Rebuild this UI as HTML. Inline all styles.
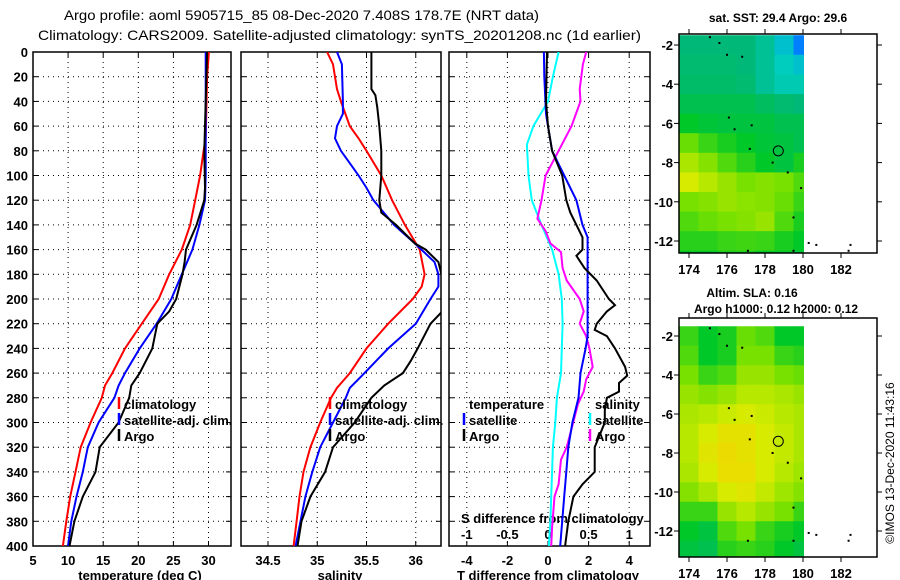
<!DOCTYPE html>
<html><head><meta charset="utf-8"><style>
html,body{margin:0;padding:0;background:#fff;width:900px;height:580px;overflow:hidden}
svg{display:block}
text{font-family:"Liberation Sans",Arial,sans-serif;fill:#000}
.tk{font-size:13px;font-weight:bold}
</style></head><body>
<svg id="fig" width="900" height="580" viewBox="0 0 900 580" xmlns="http://www.w3.org/2000/svg">
<text x="64" y="20" font-size="14" textLength="475" lengthAdjust="spacingAndGlyphs">Argo profile: aoml 5905715_85 08-Dec-2020 7.408S 178.7E (NRT data)</text>
<text x="38" y="40" font-size="14" textLength="603" lengthAdjust="spacingAndGlyphs">Climatology: CARS2009. Satellite-adjusted climatology: synTS_20201208.nc (1d earlier)</text>
<text x="778" y="22" font-size="12" font-weight="bold" text-anchor="middle">sat. SST: 29.4 Argo: 29.6</text>
<text x="752" y="297" font-size="12" font-weight="bold" text-anchor="middle">Altim. SLA: 0.16</text>
<text x="776" y="313" font-size="12" font-weight="bold" text-anchor="middle">Argo h1000: 0.12 h2000: 0.12</text>
<text x="0" y="0" font-size="12" text-anchor="middle" transform="translate(894,463) rotate(-90)">©IMOS 13-Dec-2020 11:43:16</text>
<text class="tk" x="140" y="580" text-anchor="middle">temperature (deg C)</text>
<text class="tk" x="340" y="580" text-anchor="middle">salinity</text>
<text class="tk" x="548" y="580" text-anchor="middle">T difference from climatology</text>
<text class="tk" x="461" y="523">S difference from climatology</text>
</svg>
<script>
// ---- profile data (depth in m) ----
const depthTClim=[0,20,70,80,100,120,140,160,180,200,220,240,260,270,280,300,320,340,360,380,400];
const tempClim=[30.06,29.8,29.6,29.3,28.8,28.1,27.4,26.2,24.4,22.9,20.5,18.1,16.3,15.25,14.8,13.2,11.8,11.05,10.3,9.75,9.26];
const depthTSat=[0,60,100,120,140,160,180,200,220,240,260,270,280,300,320,340,360,380,400];
const tempSat=[29.6,29.6,29.6,29.5,28.7,27.7,26.2,24.7,22.6,20.2,18.1,17.2,16.6,14.35,12.8,12.1,11.2,10.45,9.98];
const depthTArgo=[0,80,110,120,140,160,170,180,200,210,220,240,260,270,280,300,320,340,360,380,400];
const tempArgo=[29.8,29.4,29.5,29.4,28.3,26.8,26.6,26.3,25.4,24.4,22.7,22.0,20.2,19.0,18.7,17.2,14.5,13.9,12.1,10.9,10.2];

const depthSClim=[0,10,30,40,60,70,80,100,120,140,160,180,190,200,220,240,260,272,280,300,320,340,360,380,400];
const salClim=[35.10,35.16,35.2,35.24,35.33,35.42,35.5,35.65,35.76,35.89,36.04,36.09,36.06,35.97,35.72,35.5,35.33,35.2,35.14,35.03,34.93,34.86,34.82,34.79,34.76];
const depthSSat=[0,10,40,50,60,70,80,90,100,110,120,140,155,170,180,190,200,220,240,260,272,280,300,320,340,360,380,400];
const salSat=[35.2,35.25,35.26,35.26,35.2,35.18,35.24,35.33,35.42,35.5,35.57,35.78,35.99,36.19,36.23,36.23,36.15,36.0,35.72,35.48,35.33,35.29,35.16,35.03,34.95,34.88,34.83,34.78];
const depthSArgo=[0,30,35,45,60,80,100,120,130,140,155,160,170,180,190,210,220,240,250,260,270,280,300,320,340,360,380,400];
const salArgo=[35.55,35.55,35.59,35.61,35.63,35.65,35.65,35.63,35.65,35.8,35.99,36.1,36.23,36.26,36.27,36.27,36.15,36.02,35.95,35.87,35.68,35.55,35.38,35.16,35.08,34.93,34.84,34.8];

const depthDT=[0,20,50,60,80,100,120,140,150,160,230,240,260,280,300,320,340,360,380,400];
const dTSat=[-0.2,-0.18,-0.1,0,0.2,0.8,1.4,1.7,1.95,1.95,1.95,1.85,1.6,1.5,1.2,1.0,0.9,0.8,0.7,0.6];
const depthDTArgo=[0,40,60,80,100,120,130,150,160,165,175,185,200,205,210,220,225,230,240,255,262,268,275,280,290,300,320,340,350,360,380,400];
const dTArgo=[-0.05,-0.1,0,0.2,0.7,0.9,1.1,1.7,1.7,1.4,1.8,2.4,3.0,3.3,2.9,2.4,2.3,2.9,3.3,3.8,3.9,3.5,3.5,2.9,2.8,2.8,2.3,2.3,1.7,1.25,1.0,0.84];
const depthDS=[0,20,40,60,75,100,120,140,160,180,200,220,240,260,280,300,320,340,360,380,400];
const dSSat=[0.13,0.06,0,-0.18,-0.26,-0.24,-0.2,-0.08,0.05,0.13,0.17,0.18,0.17,0.16,0.11,0.09,0.06,0.05,0.04,0.03,0.01];
const depthDSArgo=[0,10,30,40,60,80,100,120,135,145,155,162,175,185,200,210,220,230,240,255,265,275,285,300,320,330,350,360,385,400];
const dSArgo=[0.47,0.43,0.39,0.4,0.29,0.13,-0.03,-0.08,-0.13,-0.03,0.03,0.16,0.18,0.23,0.39,0.44,0.39,0.47,0.51,0.55,0.47,0.44,0.37,0.31,0.23,0.16,0.13,0.08,0.05,0.04];

const depthTicks=[0,20,40,60,80,100,120,140,160,180,200,220,240,260,280,300,320,340,360,380,400];
const tempTicks=[5,10,15,20,25,30];
const salTicks=[34.5,35,35.5,36];
const dTTicks=[-4,-2,0,2,4];
const dSTicks=[-1,-0.5,0,0.5,1];
const dSTickLabels=['-1','-0.5','0','0.5','1'];

// ---- map data: 1-degree cells, rows from lat -1.5 downward, cols from lon 173.5 ----
const mapLon0=173.5, mapLat0=-1.5;
const sstGrid=[
[0.45,0.45,0.45,0.45,0.40,0.30,0.15],
[0.46,0.46,0.46,0.45,0.40,0.33,0.30],
[0.47,0.47,0.47,0.46,0.40,0.35,0.35],
[0.50,0.50,0.50,0.50,0.48,0.46,0.45],
[0.55,0.53,0.52,0.52,0.52,0.50,0.50],
[0.68,0.62,0.58,0.55,0.53,0.52,0.50],
[0.78,0.72,0.65,0.60,0.55,0.52,0.58],
[0.85,0.80,0.75,0.70,0.72,0.70,0.65],
[0.70,0.72,0.75,0.73,0.72,0.68,0.62],
[0.65,0.68,0.70,0.72,0.75,0.65,0.58],
[0.60,0.60,0.62,0.63,0.62,0.58,0.55],
[0.55,0.55,0.58,0.58,0.55,0.55,0.52]];
const slaGrid=[
[0.62,0.55,0.58,0.68,0.65,0.55,0.55],
[0.65,0.55,0.58,0.70,0.70,0.62,0.60],
[0.70,0.62,0.65,0.75,0.75,0.70,0.68],
[0.75,0.72,0.75,0.80,0.80,0.78,0.75],
[0.78,0.80,0.83,0.85,0.83,0.80,0.78],
[0.80,0.85,0.90,0.90,0.85,0.82,0.78],
[0.80,0.88,0.93,0.90,0.85,0.82,0.78],
[0.78,0.85,0.92,0.92,0.85,0.80,0.76],
[0.72,0.78,0.85,0.88,0.82,0.76,0.72],
[0.62,0.62,0.75,0.80,0.75,0.70,0.62],
[0.55,0.52,0.65,0.70,0.62,0.58,0.55],
[0.52,0.50,0.60,0.62,0.60,0.55,0.52]];
const islandLon=[175.1,175.6,176.0,176.8,176.1,176.4,177.3,177.2,178.4,179.2,179.9,179.5,177.1,179.5,180.3,180.7,182.5,182.4];
const islandLat=[-1.6,-1.9,-2.5,-2.6,-5.7,-6.3,-6.1,-7.3,-8.0,-8.5,-9.3,-10.8,-12.5,-12.5,-12.1,-12.2,-12.2,-12.5];
const argoLon=178.7, argoLat=-7.4;
const mapLonTicks=[174,176,178,180,182];
const mapLatTicks=[-2,-4,-6,-8,-10,-12];

const NS='http://www.w3.org/2000/svg';
const svg=document.getElementById('fig');
function mk(tag,attrs,parent){const e=document.createElementNS(NS,tag);for(const k in attrs)e.setAttribute(k,attrs[k]);(parent||svg).appendChild(e);return e;}

const yD=d=>52+d*1.235;
const PY0=52,PY1=546;
const panels=[
 {name:'temperature',x0:33,x1:231,f:v=>33+(v-5)*7.02},
 {name:'salinity',x0:241,x1:441,f:v=>268+(v-34.5)*98.5},
 {name:'difference',x0:449,x1:650,f:v=>548+v*20.3}
];
const fS=v=>548+v*81.2;
const defs=mk('defs',{});
panels.forEach((p,i)=>{
  const cp=mk('clipPath',{id:'clip'+i},defs);
  mk('rect',{x:p.x0,y:PY0,width:p.x1-p.x0,height:PY1-PY0},cp);
});

function gridAndBox(p,xt,i){
  const g=mk('g',{});
  
  
  depthTicks.forEach(d=>{
    const y=yD(d);
    if(d>0&&d<400){
      const l=mk('line',{x1:p.x0,x2:p.x1,y1:y,y2:y,stroke:'#000','stroke-width':1,'stroke-dasharray':'1,4'},g);
      
      
    }
    mk('line',{x1:p.x0,x2:p.x0+5,y1:y,y2:y,stroke:'#000'},g);
    mk('line',{x1:p.x1-5,x2:p.x1,y1:y,y2:y,stroke:'#000'},g);
  });
  xt.forEach(v=>{
    const x=p.f(v);
    if(x>p.x0+1&&x<p.x1-1){
      const l=mk('line',{x1:x,x2:x,y1:PY0,y2:PY1,stroke:'#000','stroke-width':1,'stroke-dasharray':'1,4'},g);
      
      
    }
    mk('line',{x1:x,x2:x,y1:PY1-5,y2:PY1,stroke:'#000'},g);
    mk('line',{x1:x,x2:x,y1:PY0,y2:PY0+5,stroke:'#000'},g);
    const t=mk('text',{x:x,y:565,'text-anchor':'middle',class:'tk'});
    
    
    t.textContent=String(v);
  });
  const b=mk('rect',{x:p.x0,y:PY0,width:p.x1-p.x0,height:PY1-PY0,fill:'none',stroke:'#000','stroke-width':1.5});
  
  
}
gridAndBox(panels[0],tempTicks,0);
gridAndBox(panels[1],salTicks,1);
gridAndBox(panels[2],dTTicks,2);

depthTicks.forEach(d=>{
  const t=mk('text',{x:28,y:yD(d)+5,'text-anchor':'end',class:'tk'});
  
  
  t.textContent=String(d);
});
dSTicks.forEach((v,i)=>{
  const t=mk('text',{x:fS(v),y:539,'text-anchor':'middle',class:'tk'});
  
  
  t.textContent=dSTickLabels[i];
});

function line(depths,vals,fx,color,ci,name){
  const pts=depths.map((d,i)=>fx(vals[i]).toFixed(1)+','+yD(d).toFixed(1)).join(' ');
  const pl=mk('polyline',{points:pts,fill:'none',stroke:color,'stroke-width':2,'clip-path':'url(#clip'+ci+')'});
  
  
}
line(depthTClim,tempClim,panels[0].f,'#ff0000',0,'temperature-climatology-line');
line(depthTSat,tempSat,panels[0].f,'#0000ff',0,'temperature-satellite-line');
line(depthTArgo,tempArgo,panels[0].f,'#000000',0,'temperature-argo-line');
line(depthSClim,salClim,panels[1].f,'#ff0000',1,'salinity-climatology-line');
line(depthSSat,salSat,panels[1].f,'#0000ff',1,'salinity-satellite-line');
line(depthSArgo,salArgo,panels[1].f,'#000000',1,'salinity-argo-line');
line(depthDS,dSSat,fS,'#00ffff',2,'s-diff-satellite-line');
line(depthDSArgo,dSArgo,fS,'#ff00ff',2,'s-diff-argo-line');
line(depthDT,dTSat,panels[2].f,'#0000ff',2,'t-diff-satellite-line');
line(depthDTArgo,dTArgo,panels[2].f,'#000000',2,'t-diff-argo-line');

function legendEntry(x,y,color,label){
  if(color){
    const m=mk('line',{x1:x,x2:x,y1:y-12,y2:y,stroke:color,'stroke-width':2.5});
    
    
  }
  const t=mk('text',{x:x+5,y:y,class:'tk'});
  
  
  t.textContent=label;
}
legendEntry(119,409,'#ff0000','climatology');
legendEntry(119,425,'#0000ff','satellite-adj. clim.');
legendEntry(119,441,'#000000','Argo');
legendEntry(330,409,'#ff0000','climatology');
legendEntry(330,425,'#0000ff','satellite-adj. clim.');
legendEntry(330,441,'#000000','Argo');
legendEntry(464,409,null,'temperature');
legendEntry(464,425,'#0000ff','satellite');
legendEntry(464,441,'#000000','Argo');
legendEntry(590,409,null,'salinity');
legendEntry(590,425,'#00ffff','satellite');
legendEntry(590,441,'#ff00ff','Argo');

// ---- maps ----
const stops=[[0,[0,60,255]],[0.2,[0,150,255]],[0.33,[0,205,190]],[0.45,[0,185,120]],[0.55,[0,200,40]],[0.7,[120,225,0]],[0.85,[215,235,0]],[1,[255,205,0]]];
function cmap(v){
  for(let i=1;i<stops.length;i++){
    if(v<=stops[i][0]){
      const a=stops[i-1],b=stops[i],t=(v-a[0])/(b[0]-a[0]);
      const c=a[1].map((c0,k)=>Math.round(c0+(b[1][k]-c0)*t));
      return 'rgb('+c.join(',')+')';
    }
  }
  return 'rgb(255,205,0)';
}
function drawMap(grid,top,bot,latY,name){
  const X0=679,X1=877;
  const fx=l=>689+(l-174)*19;
  const g=mk('g',{});
  
  
  const cid='mclip'+name;
  const cp=mk('clipPath',{id:cid},defs);
  mk('rect',{x:X0,y:top,width:fx(180.05)-X0,height:bot-top},cp);
  const cg=mk('g',{'clip-path':'url(#'+cid+')'},g);
  grid.forEach((row,r)=>row.forEach((v,c)=>{
    const lon=mapLon0+c, lat=mapLat0-r;
    const x=fx(lon), y=latY(lat), w=fx(lon+1)-x, h=latY(lat-1)-y;
    const cell=mk('rect',{x:x,y:y,width:w+0.5,height:h+0.5,fill:cmap(v)},cg);
    
    
  }));
  islandLon.forEach((lo,i)=>{
    const d=mk('rect',{x:fx(lo)-1,y:latY(islandLat[i])-1,width:2,height:2,fill:'#000'},g);
    
    
  });
  const c=mk('circle',{cx:fx(argoLon),cy:latY(argoLat),r:5,fill:'none',stroke:'#000','stroke-width':1},g);
  
  
  const fr=mk('rect',{x:X0,y:top,width:X1-X0,height:bot-top,fill:'none',stroke:'#000','stroke-width':1.5},g);
  
  
  mapLatTicks.forEach(la=>{
    const y=latY(la);
    mk('line',{x1:X0-5,x2:X0,y1:y,y2:y,stroke:'#000'},g);
    mk('line',{x1:X1,x2:X1+5,y1:y,y2:y,stroke:'#000'},g);
    const t=mk('text',{x:673,y:y+5,'text-anchor':'end',class:'tk'});
    
    
    t.textContent=String(la);
  });
  mapLonTicks.forEach(lo=>{
    const x=fx(lo);
    mk('line',{x1:x,x2:x,y1:bot,y2:bot+5,stroke:'#000'},g);
    mk('line',{x1:x,x2:x,y1:top-5,y2:top,stroke:'#000'},g);
    const t=mk('text',{x:x,y:bot+21,'text-anchor':'middle',class:'tk'});
    
    
    t.textContent=String(lo);
  });
}
drawMap(sstGrid,34,253,la=>45+(-2-la)*19.6,'sst-map');
drawMap(slaGrid,318,557,la=>336+(-2-la)*19.5,'sla-map');
</script>
</body></html>
